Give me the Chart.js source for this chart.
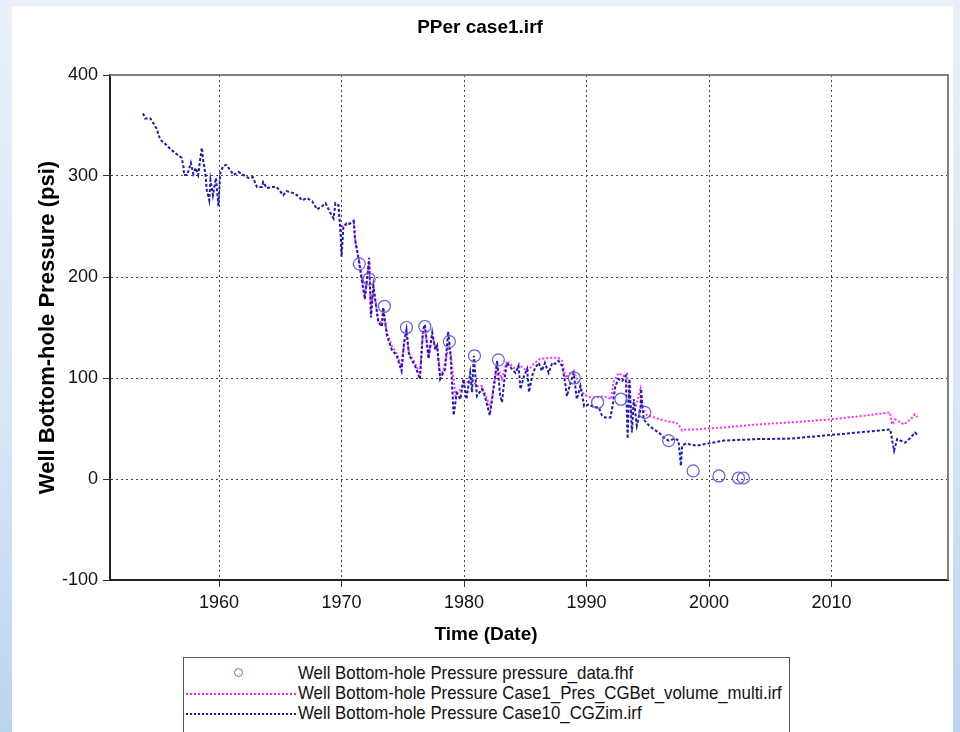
<!DOCTYPE html>
<html>
<head>
<meta charset="utf-8">
<script src="https://cdn.jsdelivr.net/npm/chart.js@4"></script>
<style>
html,body{margin:0;padding:0;}
body{width:960px;height:732px;overflow:hidden;position:relative;
  background:linear-gradient(to bottom,#e9f0f9 0%,#d9e6f5 55%,#bcd3ee 100%);
  font-family:'Liberation Sans',Arial,sans-serif;}
#panel{position:absolute;left:12px;top:6px;width:941px;height:740px;background:#fff;}
#wrap{position:absolute;left:0;top:0;width:960px;height:650px;}
#legend{position:absolute;left:183px;top:657px;width:607px;height:90px;border:1px solid #555;background:#fff;box-sizing:border-box;}
.row{position:absolute;left:0;height:20px;width:100%;font-size:19px;line-height:20px;color:#111;}
.row .txt{position:absolute;left:114px;top:0;white-space:nowrap;transform:scaleX(0.885);transform-origin:0 50%;}
.row .ln{position:absolute;left:2px;width:110px;top:10px;height:0;}
.row .pt{position:absolute;left:50px;top:5px;width:7px;height:7px;border:1.3px solid #6b6be0;border-radius:50%;}
</style>
</head>
<body>
<div id="panel"></div>
<div id="wrap"><canvas id="chart" width="960" height="650"></canvas></div>
<div id="legend">
  <div class="row" style="top:5px"><span class="pt"></span><span class="txt">Well Bottom-hole Pressure pressure_data.fhf</span></div>
  <div class="row" style="top:25px"><span class="ln" style="border-top:2px dotted #ff2cff"></span><span class="txt">Well Bottom-hole Pressure Case1_Pres_CGBet_volume_multi.irf</span></div>
  <div class="row" style="top:45px"><span class="ln" style="border-top:2px dotted #1c1cb0"></span><span class="txt">Well Bottom-hole Pressure Case10_CGZim.irf</span></div>
</div>
<script>
// chart text
const TITLE = 'PPer case1.irf';
const X_TITLE = 'Time (Date)';
const Y_TITLE = 'Well Bottom-hole Pressure (psi)';
const FONT = "'Liberation Sans',Arial,sans-serif";

// axis ticks
const xTicks = [1960, 1970, 1980, 1990, 2000, 2010];
const yTicks = [-100, 0, 100, 200, 300, 400];

// observed pressure (pressure_data.fhf)
const obsYears = [1971.45, 1972.25, 1973.5, 1975.3, 1976.8, 1978.8, 1980.85, 1982.8, 1989.0, 1990.9, 1992.8, 1994.75, 1996.7, 1998.7, 2000.8, 2002.4, 2002.8];
const obsPres  = [213, 198, 171, 150, 151, 136, 122, 118, 100, 76, 79, 66, 38, 8, 3, 1, 1];

// Case1_Pres_CGBet_volume_multi.irf (magenta)
const case1Years = [1970.0, 1970.5, 1971.0, 1971.1, 1971.4, 1971.65, 1971.9, 1972.05, 1972.25, 1972.4, 1972.6, 1973.0, 1973.3, 1973.4, 1973.7,
  1974.1, 1974.5, 1974.9, 1975.1, 1975.3, 1975.5, 1976.0, 1976.4, 1976.65, 1976.8, 1977.1, 1977.4, 1977.65, 1977.8, 1978.05, 1978.3,
  1978.8, 1979.3, 1979.7, 1980.1, 1980.8, 1981.05, 1981.45, 1982.15, 1982.7, 1983.1, 1983.5, 1984.05, 1984.6, 1985.15, 1985.7, 1986.2,
  1987.05, 1987.7, 1988.0, 1988.3, 1988.8, 1989.1, 1989.75, 1990.3, 1990.85, 1991.1, 1991.65, 1992.0, 1992.2, 1992.6, 1993.0, 1993.3,
  1993.5, 1993.7, 1993.95, 1994.4, 1994.5, 1994.95, 1995.5, 1996.0, 1996.6, 1997.25, 1997.5, 1997.8, 1998.1, 1999.0, 1999.85, 2001.2,
  2003.9, 2006.65, 2009.9, 2012.6, 2014.75, 2014.95, 2015.2, 2015.9, 2016.45, 2016.8, 2017.0];
const case1Pres = [250, 252, 256, 238, 219, 200, 183, 197, 214, 166, 190, 158, 153, 168, 145,
  132, 124, 112, 133, 146, 125, 115, 104, 145, 150, 122, 142, 130, 133, 103, 107,
  135, 82, 89, 96, 96, 92, 92, 71, 112, 99, 117, 110, 112, 107, 114, 119,
  120, 120, 117, 100, 107, 102, 84, 81, 81, 82, 81, 79, 96, 105, 102, 104,
  79, 63, 69, 89, 71, 63, 61, 59, 57, 56, 54, 48, 49, 49, 50, 51,
  54, 56, 59, 62.5, 66, 54, 59, 54, 59, 64, 61];

// Case10_CGZim.irf (blue)
const case10Years = [1953.8, 1953.95, 1954.4, 1954.6, 1954.9, 1955.2, 1955.6, 1956.0, 1956.5, 1956.95, 1957.1, 1957.15, 1957.4, 1957.7,
  1957.9, 1958.1, 1958.3, 1958.5, 1958.6, 1958.7, 1958.9, 1959.0, 1959.2, 1959.3, 1959.5, 1959.75, 1959.95, 1960.1, 1960.35, 1960.6,
  1960.9, 1961.2, 1961.6, 1962.0, 1962.4, 1962.75, 1963.1, 1963.5, 1963.6, 1963.9, 1964.3, 1964.7, 1965.25, 1965.5, 1966.1, 1966.5,
  1966.75, 1967.2, 1967.6, 1968.0, 1968.4, 1968.7, 1969.1, 1969.35, 1969.5, 1969.75, 1969.9, 1970.0, 1970.15, 1970.4, 1970.55, 1971.0,
  1971.1, 1971.4, 1971.65, 1971.9, 1972.05, 1972.25, 1972.4, 1972.6, 1973.0, 1973.3, 1973.4, 1973.7, 1974.1, 1974.5, 1974.9, 1975.1,
  1975.3, 1975.5, 1976.0, 1976.4, 1976.65, 1976.8, 1977.1, 1977.4, 1977.65, 1977.8, 1978.05, 1978.45, 1978.7, 1978.9, 1979.15, 1979.4,
  1979.7, 1979.95, 1980.2, 1980.5, 1980.65, 1980.8, 1981.05, 1981.45, 1981.7, 1982.1, 1982.4, 1982.7, 1982.95, 1983.1, 1983.3, 1983.5,
  1983.9, 1984.2, 1984.45, 1984.6, 1984.9, 1985.15, 1985.3, 1985.55, 1985.8, 1986.1, 1986.35, 1986.6, 1986.9, 1987.2, 1987.45, 1987.7,
  1988.0, 1988.2, 1988.4, 1988.7, 1988.95, 1989.2, 1989.5, 1989.8, 1990.2, 1990.6, 1991.0, 1991.25, 1991.5, 1991.95, 1992.1, 1992.35,
  1992.6, 1992.9, 1993.2, 1993.35, 1993.5, 1993.7, 1993.85, 1994.1, 1994.4, 1994.45, 1994.65, 1995.1, 1995.5, 1995.9, 1996.3, 1996.7,
  1997.25, 1997.5, 1997.7, 1997.8, 1998.1, 1999.0, 1999.85, 2001.2, 2003.9, 2006.65, 2009.4, 2012.1, 2014.8, 2014.95, 2015.1, 2015.35,
  2016.0, 2016.45, 2016.8, 2017.0];
const case10Pres = [362, 357, 357, 353, 347, 336, 332, 327, 322, 318, 309, 301, 301, 313,
  302, 308, 301, 320, 328, 316, 301, 286, 276, 296, 281, 298, 270, 303, 310, 311,
  306, 301, 304, 301, 298, 299, 289, 289, 294, 288, 289, 289, 281, 285, 283, 280,
  276, 278, 275, 267, 270, 273, 263, 258, 273, 271, 247, 220, 250, 253, 252, 255,
  237, 217, 197, 178, 194, 219, 160, 191, 155, 151, 170, 142, 128, 122, 107, 135,
  148, 123, 112, 99, 148, 153, 119, 145, 128, 132, 99, 109, 146, 122, 63, 85,
  79, 99, 79, 105, 86, 122, 82, 89, 82, 63, 89, 117, 82, 76, 99, 115,
  109, 105, 112, 89, 102, 109, 86, 102, 110, 115, 107, 115, 105, 115, 114, 117,
  112, 99, 82, 96, 105, 79, 92, 72, 74, 71, 71, 63, 61, 61, 71, 92,
  99, 97, 102, 40, 99, 46, 79, 53, 69, 89, 59, 53, 49, 46, 41, 38,
  40, 38, 13, 33, 35, 33, 35, 38, 39.5, 40, 43, 46, 49, 38, 28, 39.5,
  36, 41, 46, 44];

const toXY = (xs, ys) => xs.map((x, i) => ({ x, y: ys[i] }));

// grey frame on top/right of the plot, and the x title under the axis
const frame = {
  id: 'frame',
  afterDraw(chart) {
    const { ctx, chartArea: a } = chart;
    ctx.save();
    ctx.strokeStyle = '#808080';
    ctx.lineWidth = 2;
    ctx.beginPath();
    ctx.moveTo(a.left, a.top);
    ctx.lineTo(a.right, a.top);
    ctx.lineTo(a.right, a.bottom);
    ctx.stroke();
    ctx.font = 'bold 19px ' + FONT;
    ctx.fillStyle = '#000';
    ctx.textAlign = 'center';
    ctx.textBaseline = 'middle';
    ctx.fillText(X_TITLE, chart.width / 2 + 6, a.bottom + 55);
    ctx.restore();
  }
};

const gridOpts = { color: '#444', lineWidth: 1, tickLength: 7, tickColor: '#333', tickBorderDash: [] };
const borderOpts = { display: true, color: '#222', width: 2, dash: [2, 3] };

new Chart(document.getElementById('chart'), {
  type: 'line',
  data: {
    datasets: [
      { label: 'Well Bottom-hole Pressure pressure_data.fhf', data: toXY(obsYears, obsPres), showLine: false,
        pointStyle: 'circle', pointRadius: 6, pointBorderWidth: 1.2, pointBorderColor: '#5f5fdd', pointBackgroundColor: 'rgba(0,0,0,0)', order: 0 },
      { label: 'Well Bottom-hole Pressure Case10_CGZim.irf', data: toXY(case10Years, case10Pres), borderColor: '#1c1cb0',
        borderWidth: 2, borderDash: [3, 2], pointRadius: 0, tension: 0, fill: false, order: 1 },
      { label: 'Well Bottom-hole Pressure Case1_Pres_CGBet_volume_multi.irf', data: toXY(case1Years, case1Pres), borderColor: '#ff2cff',
        borderWidth: 2, borderDash: [2, 2], pointRadius: 0, tension: 0, fill: false, order: 2 }
    ]
  },
  options: {
    responsive: false, animation: false,
    layout: { padding: { left: 12, right: 12, top: 0, bottom: 0 } },
    plugins: {
      legend: { display: false }, tooltip: { enabled: false },
      title: { display: true, text: TITLE, color: '#000', font: { family: FONT, size: 19, weight: 'bold' }, padding: { top: 16.6, bottom: 35.6 } }
    },
    scales: {
      x: {
        type: 'linear', min: 1951.1, max: 2019.5,
        afterBuildTicks: s => { s.ticks = xTicks.map(v => ({ value: v })); },
        afterFit: s => { s.height = 70; },
        grid: gridOpts,
        border: borderOpts,
        ticks: { color: '#111', padding: 5, maxRotation: 0, font: { family: FONT, size: 18 }, callback: v => String(v) }
      },
      y: {
        min: -100, max: 400,
        afterBuildTicks: s => { s.ticks = yTicks.map(v => ({ value: v })); },
        afterFit: s => { s.width = 98; },
        grid: gridOpts,
        border: borderOpts,
        ticks: { color: '#111', padding: 5, font: { family: FONT, size: 18 }, callback: v => String(v) },
        title: { display: true, text: Y_TITLE, color: '#000', font: { family: FONT, size: 22, weight: 'bold' }, padding: { top: 22.6, bottom: 0 } }
      }
    }
  },
  plugins: [frame]
});
</script>
</body>
</html>
